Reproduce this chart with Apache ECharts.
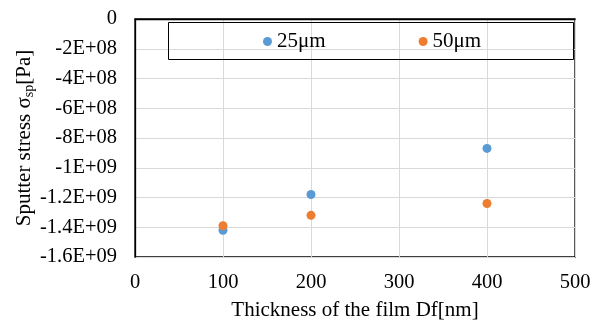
<!DOCTYPE html>
<html>
<head>
<meta charset="utf-8">
<script src="https://cdn.jsdelivr.net/npm/echarts@6/dist/echarts.min.js"></script>
<style>
html, body { margin: 0; padding: 0; background: #fff; }
#chart { width: 603px; height: 324px; }
</style>
</head>
<body>
<div id="chart"></div>
<script>
// 膜厚 (nm)
var thickness = [100, 200, 400];
// 系列名
var seriesNames = ['25μm', '50μm'];
// 各系列のスパッタ応力 (Pa)
var stress25 = [-1.42e9, -1.18e9, -8.7e8];
var stress50 = [-1.39e9, -1.32e9, -1.24e9];

var colors = ['#5B9BD5', '#ED7D31'];
var font = '"Liberation Serif", "Times New Roman", serif';

// Excel 風の指数表記 (-1.2E+09)
function sciLabel(v) {
    if (v === 0) return '0';
    var exp = Math.floor(Math.log10(Math.abs(v)) + 1e-9);
    var mant = v / Math.pow(10, exp);
    mant = Math.round(mant * 10) / 10;
    return mant + 'E+' + (exp < 10 ? '0' + exp : exp);
}

function pairs(xs, ys) {
    var out = [];
    for (var i = 0; i < xs.length; i++) {
        out.push([xs[i], ys[i]]);
    }
    return out;
}

var oChart = echarts.init(document.getElementById('chart'));
var chartopt = {
    animation: false,
    textStyle: { fontFamily: font },
    color: colors,
    grid: {
        left: 135,
        right: 28,
        top: 19,
        bottom: 67,
        outerBoundsMode: 'none',
        show: true,
        borderColor: '#000',
        borderWidth: 1.3
    },
    legend: {
        data: seriesNames,
        left: 258,
        top: 26,
        icon: 'circle',
        itemWidth: 9,
        itemHeight: 9,
        itemGap: 93,
        textStyle: { fontFamily: font, fontSize: 21, color: '#000' }
    },
    graphic: [{
        type: 'rect',
        left: 166,
        top: 20,
        shape: { width: 405, height: 37 },
        style: { fill: 'none', stroke: '#000', lineWidth: 1 },
        z: 10
    }],
    xAxis: {
        type: 'value',
        min: 0,
        max: 500,
        interval: 100,
        name: 'Thickness of the film Df[nm]',
        nameLocation: 'middle',
        nameGap: 43,
        nameMoveOverlap: false,
        nameTextStyle: { fontFamily: font, fontSize: 21, color: '#000' },
        axisLine: { lineStyle: { color: '#000', width: 1.3 } },
        axisTick: { show: false },
        axisLabel: { fontFamily: font, fontSize: 20.5, color: '#000', margin: 15 },
        splitLine: { show: true, lineStyle: { color: '#d9d9d9', width: 1 } }
    },
    yAxis: {
        type: 'value',
        min: -1.6e9,
        max: 0,
        interval: 2e8,
        name: '{n|Sputter stress σ}{s|sp}{n|[Pa]}',
        nameLocation: 'middle',
        nameGap: 99,
        nameRotate: 90,
        nameMoveOverlap: false,
        nameTextStyle: {
            fontFamily: font,
            color: '#000',
            rich: {
                n: { fontFamily: font, fontSize: 21, color: '#000' },
                s: { fontFamily: font, fontSize: 14, color: '#000', verticalAlign: 'bottom', padding: [9, 0, 0, 0] }
            }
        },
        axisLine: { show: true, lineStyle: { color: '#000', width: 1.3 } },
        axisTick: { show: false },
        axisLabel: { fontFamily: font, fontSize: 20.5, color: '#000', margin: 18, formatter: sciLabel },
        splitLine: { show: true, lineStyle: { color: '#d9d9d9', width: 1 } }
    },
    series: [
        {
            name: seriesNames[0],
            type: 'scatter',
            symbolSize: 9,
            itemStyle: { opacity: 1 },
            data: pairs(thickness, stress25)
        },
        {
            name: seriesNames[1],
            type: 'scatter',
            symbolSize: 9,
            itemStyle: { opacity: 1 },
            data: pairs(thickness, stress50)
        }
    ]
};
oChart.setOption(chartopt);
</script>
</body>
</html>
